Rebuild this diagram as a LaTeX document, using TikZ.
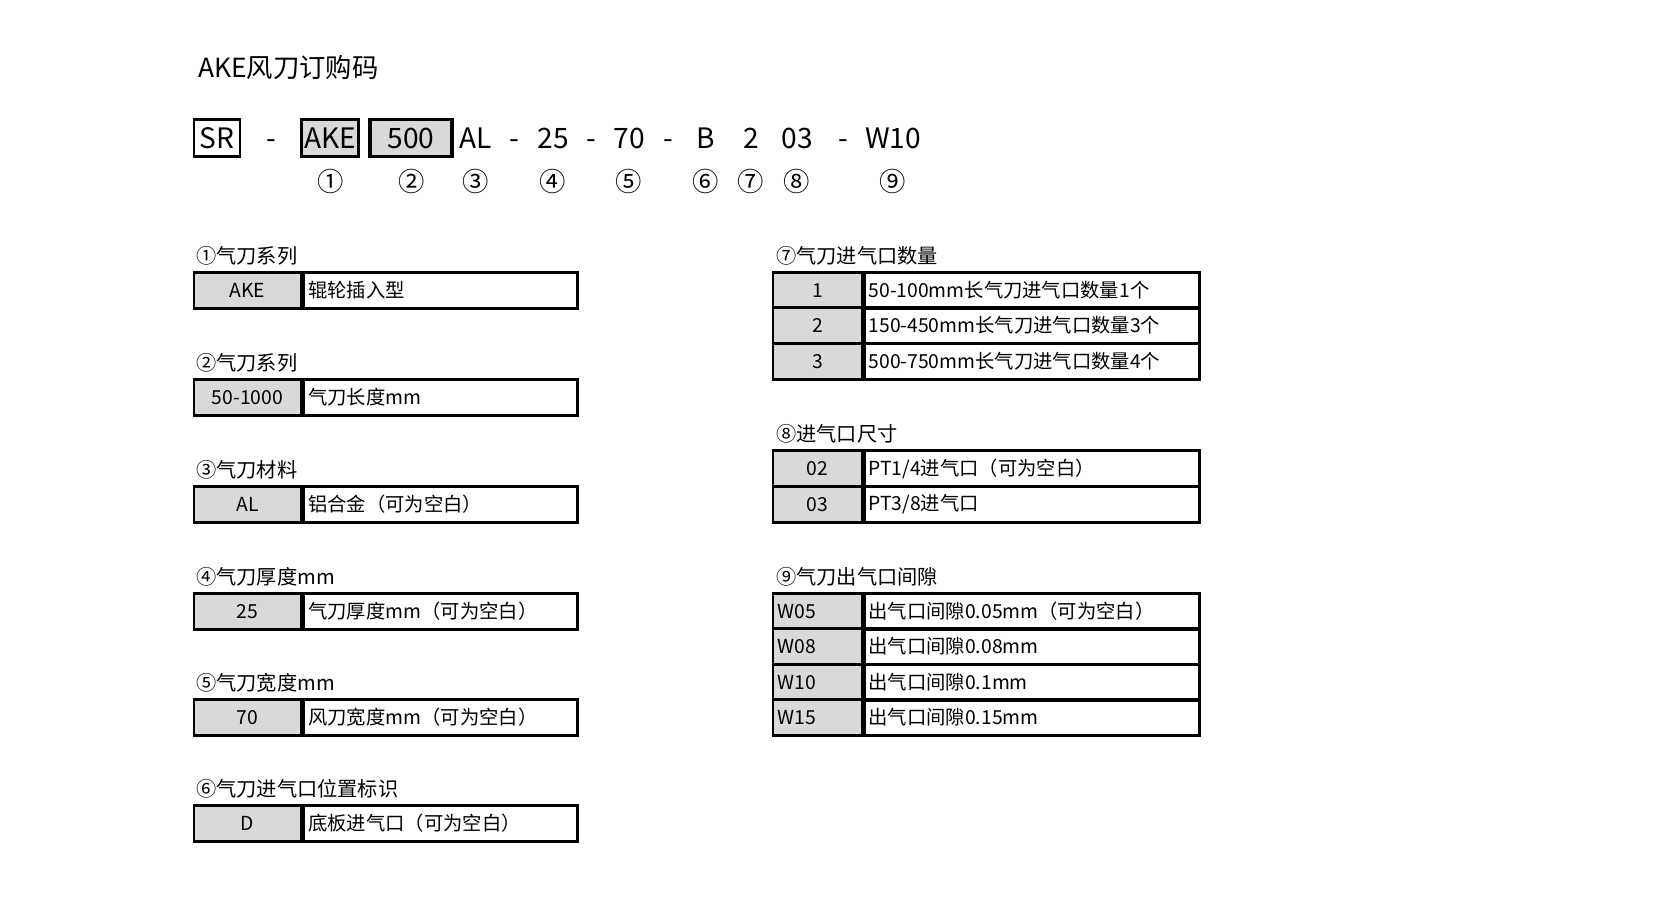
\documentclass[tikz,border=0pt]{standalone}
\usepackage{fontspec}
\setmainfont{Noto Sans CJK SC}
\usetikzlibrary{positioning}

\tikzset{
  box/.style={draw,line width=1.6pt,inner sep=0pt,font=\fontsize{11}{13}\selectfont},
  key/.style={box,fill=gray!30,minimum width=2.14cm,minimum height=0.71cm},
  rkey/.style={box,fill=gray!30,minimum width=1.78cm,minimum height=0.71cm},
  val/.style={box,minimum width=5.48cm,minimum height=0.71cm,text width=5.3cm,align=left},
  rval/.style={box,minimum width=6.7cm,minimum height=0.71cm,text width=6.55cm,align=left},
  lbl/.style={anchor=west,inner sep=0pt,font=\fontsize{11.5}{13}\selectfont},
  code/.style={inner sep=0pt,text height=11.5pt,text depth=0pt,font=\fontsize{16}{18}\selectfont},
  num/.style={inner sep=0pt,font=\fontsize{15}{17}\selectfont},
}

\begin{document}
\begin{tikzpicture}[x=0.02cm,y=-0.02cm]
\useasboundingbox (0,0) rectangle (1653,918);
% title
\node[anchor=west,inner sep=0pt,font=\fontsize{15}{17}\selectfont] (title) at (198,68) {AKE风刀订购码};
% order code
\node[code,draw,line width=1.6pt,minimum width=0.92cm,minimum height=0.74cm] (sr) at (217,138) {SR};
\node[code] (d1) at (271,138) {-};
\node[code,draw,line width=1.8pt,fill=gray!30,minimum width=1.14cm,minimum height=0.74cm] (ake) at (330,138) {AKE};
\node[code,draw,line width=1.8pt,fill=gray!30,minimum width=1.64cm,minimum height=0.74cm] (len) at (411,138) {500};
\foreach \n/\x/\t in {al/476/AL,d2/514/-,th/553/25,d3/591/-,wd/629/70,d4/668/-,pos/706/B,cnt/751/2,sz/797/03,d5/843/-,gap/893/W10}
  \node[code] (\n) at (\x,138) {\t};
\foreach \n/\x/\t in {c1/331/①,c2/412/②,c3/476/③,c4/553/④,c5/629/⑤,c6/706/⑥,c7/751/⑦,c8/797/⑧,c9/893/⑨}
  \node[num] (\n) at (\x,181) {\t};

% left tables
\foreach \n/\y/\c/\k/\v in {
  t1/273/①气刀系列/AKE/辊轮插入型,
  t2/380/②气刀系列/50-1000/气刀长度mm,
  t3/487/③气刀材料/AL/铝合金（可为空白）,
  t4/594/④气刀厚度mm/25/气刀厚度mm（可为空白）,
  t5/700/⑤气刀宽度mm/70/风刀宽度mm（可为空白）,
  t6/806/⑥气刀进气口位置标识/D/底板进气口（可为空白）}{
  \node[lbl] (\n cap) at (196,\y-17) {\c};
  \node[key] (\n k) at (247.5,\y+17.5) {\k};
  \node[val,anchor=west] (\n v) at (\n k.east) {\v};
}

% right tables
\node[lbl] (t7cap) at (776,256) {⑦气刀进气口数量};
\foreach \n/\y/\k/\v in {a/273/1/50-100mm长气刀进气口数量1个,b/308/2/150-450mm长气刀进气口数量3个,c/344/3/500-750mm长气刀进气口数量4个}{
  \node[rkey] (t7\n k) at (817.5,\y+17.5) {\k};
  \node[rval,anchor=west] (t7\n v) at (t7\n k.east) {\v};
}
\node[lbl] (t8cap) at (776,434) {⑧进气口尺寸};
\foreach \n/\y/\k/\v in {a/451/02/{PT1/4进气口（可为空白）},b/487/03/{PT3/8进气口}}{
  \node[rkey] (t8\n k) at (817.5,\y+17.5) {\k};
  \node[rval,anchor=west] (t8\n v) at (t8\n k.east) {\v};
}
\node[lbl] (t9cap) at (776,577) {⑨气刀出气口间隙};
\foreach \n/\y/\k/\v in {a/594/W05/出气口间隙0.05mm（可为空白）,b/629/W08/出气口间隙0.08mm,c/665/W10/出气口间隙0.1mm,d/700/W15/出气口间隙0.15mm}{
  \node[rkey,text width=1.6cm,align=left] (t9\n k) at (817.5,\y+17.5) {\k};
  \node[rval,anchor=west] (t9\n v) at (t9\n k.east) {\v};
}
\end{tikzpicture}
\end{document}
